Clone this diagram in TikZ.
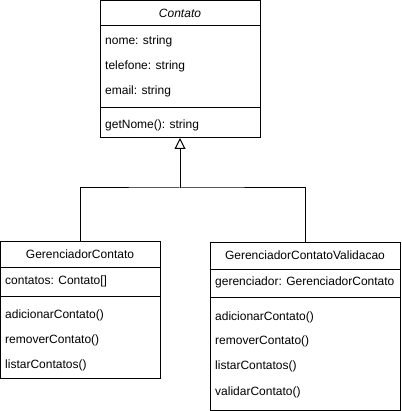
\documentclass[tikz,border=0pt]{standalone}
\usepackage{fontspec}
\setmainfont{Liberation Sans}
\usetikzlibrary{arrows.meta}

\tikzset{
  part/.style={draw, line width=1pt, anchor=north west, inner sep=0pt, outer sep=0pt,
    font=\fontsize{12}{14}\selectfont},
  member/.style={anchor=west, inner sep=0pt, font=\fontsize{12}{14}\selectfont,
    text height=8.6pt, text depth=2.5pt},
  extends/.style={line width=1pt, -{Triangle[open, length=11pt, width=11pt, line width=1pt]}},
}

\begin{document}
\begin{tikzpicture}[x=1pt, y=-1pt]
  \useasboundingbox (0,0) rectangle (401,411);

  % Contato
  \node (contatoT) at (100,1) [part, minimum width=160pt, minimum height=25pt] {\itshape Contato};
  \node (contatoA) at (100,26) [part, minimum width=160pt, minimum height=82pt] {};
  \node (contatoO) at (100,108) [part, minimum width=160pt, minimum height=30pt] {};
  \node (nome) at (105,41) [member] {nome: string};
  \node (telefone) at (105,66) [member] {telefone: string};
  \node (email) at (105,91) [member] {email: string};
  \node (getnome) at (105,125) [member] {getNome(): string};

  % GerenciadorContato
  \node (gerT) at (0,241) [part, minimum width=160pt, minimum height=26pt] {GerenciadorContato};
  \node (gerA) at (0,267) [part, minimum width=160pt, minimum height=29pt] {};
  \node (gerO) at (0,296) [part, minimum width=160pt, minimum height=82pt] {};
  \node (contatos) at (5,281) [member] {contatos: Contato[]};
  \node (adicionar) at (5,315) [member] {adicionarContato()};
  \node (remover) at (5,340) [member] {removerContato()};
  \node (listar) at (5,365) [member] {listarContatos()};

  % GerenciadorContatoValidacao
  \node (valT) at (210,242) [part, minimum width=190pt, minimum height=27pt] {GerenciadorContatoValidacao};
  \node (valA) at (210,269) [part, minimum width=190pt, minimum height=28pt] {};
  \node (valO) at (210,297) [part, minimum width=190pt, minimum height=113pt] {};
  \node (gerenciador) at (215,282) [member] {gerenciador: GerenciadorContato};
  \node (vadicionar) at (215,317) [member] {adicionarContato()};
  \node (vremover) at (215,341) [member] {removerContato()};
  \node (vlistar) at (215,366) [member] {listarContatos()};
  \node (validar) at (215,392) [member] {validarContato()};

  % heranca
  \coordinate (join) at (180,188);
  \draw[line width=1pt] (gerT.north) |- (join) -| (valT.north);
  \draw[extends] (join) -- (contatoO.south);
\end{tikzpicture}
\end{document}
